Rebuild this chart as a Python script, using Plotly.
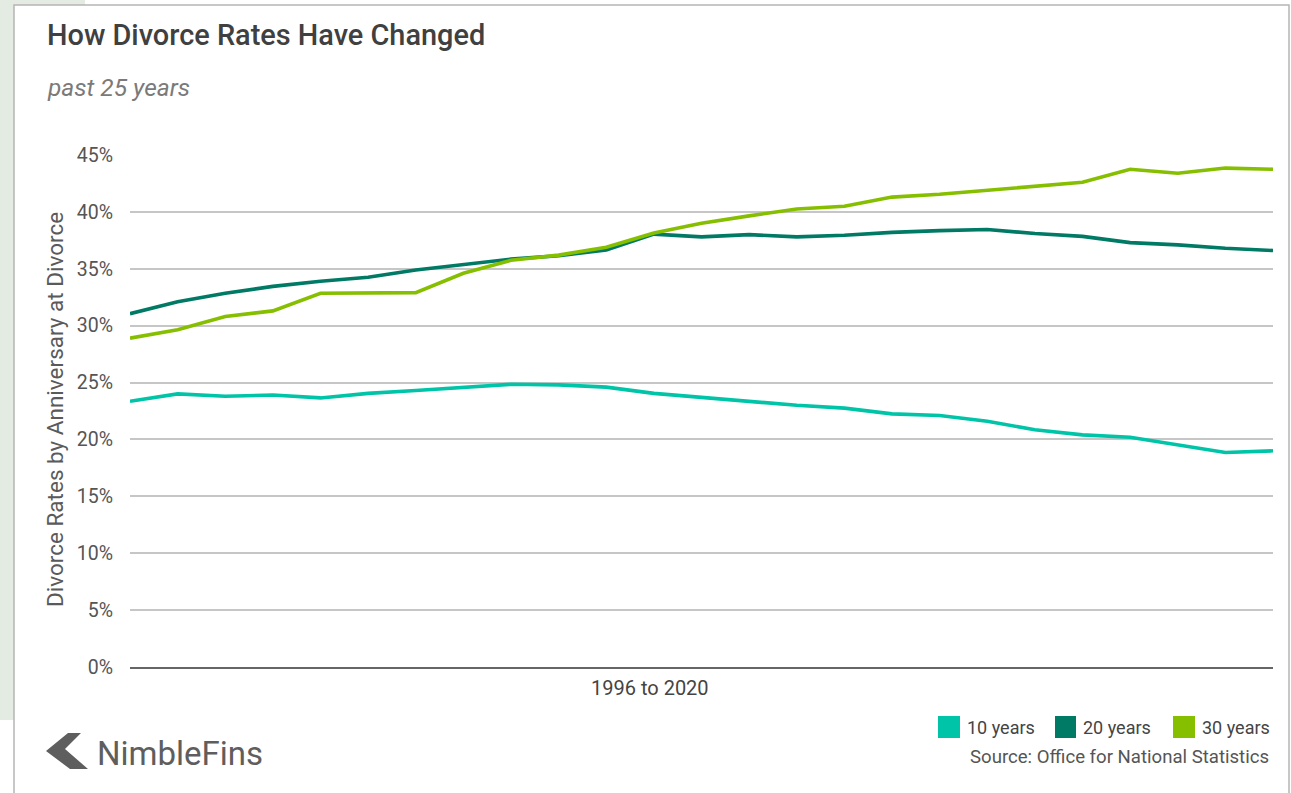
import plotly.graph_objects as go

years = [1996, 1997, 1998, 1999, 2000, 2001, 2002, 2003, 2004, 2005, 2006, 2007, 2008,
         2009, 2010, 2011, 2012, 2013, 2014, 2015, 2016, 2017, 2018, 2019, 2020]
ten_years = [23.35, 24.0, 23.8, 23.9, 23.65, 24.05, 24.3, 24.6, 24.85, 24.8, 24.6, 24.05, 23.7,
             23.3, 23.0, 22.75, 22.25, 22.1, 21.6, 20.85, 20.4, 20.2, 19.5, 18.85, 19.0]
twenty_years = [31.05, 32.1, 32.85, 33.45, 33.9, 34.25, 34.9, 35.35, 35.85, 36.15, 36.65, 38.05, 37.8,
                38.0, 37.8, 37.95, 38.2, 38.35, 38.45, 38.1, 37.85, 37.3, 37.1, 36.8, 36.6]
thirty_years = [28.9, 29.65, 30.8, 31.3, 32.85, 32.9, 32.9, 34.6, 35.75, 36.2, 36.9, 38.15, 39.0,
                39.65, 40.25, 40.5, 41.3, 41.55, 41.9, 42.25, 42.6, 43.75, 43.4, 43.85, 43.75]

series_names = ["10 years", "20 years", "30 years"]
series_colors = ["#00C4A8", "#007A65", "#86BF00"]
y_ticks = [0, 5, 10, 15, 20, 25, 30, 35, 40, 45]
y_tick_labels = ["0%", "5%", "10%", "15%", "20%", "25%", "30%", "35%", "40%", "45%"]

W, H = 1291, 793
L, R, T, B = 130, 18, 155, 126
PW, PH = W - L - R, H - T - B

def px(x):
    return (x - L) / PW

def py(y):
    return (H - B - y) / PH

FONT = "Roboto, Arial, sans-serif"

fig = go.Figure()
for name, vals, col in zip(series_names, [ten_years, twenty_years, thirty_years], series_colors):
    fig.add_trace(go.Scatter(x=years, y=vals, mode="lines", name=name,
                             line=dict(color=col, width=3.6), showlegend=False,
                             hoverinfo="skip"))

shapes = []
# page background panel and chart card
shapes.append(dict(type="rect", xref="paper", yref="paper", x0=px(0), x1=px(85), y0=py(720), y1=py(0),
                   fillcolor="#E4EBE2", line=dict(width=0), layer="below"))
shapes.append(dict(type="rect", xref="paper", yref="paper", x0=px(14), x1=px(1289), y0=py(800), y1=py(5),
                   fillcolor="white", line=dict(color="#B5B5B5", width=1.5), layer="below"))
# legend swatches
sw = [(938, 960), (1055, 1076), (1173, 1195)]
for (a, b), col in zip(sw, series_colors):
    shapes.append(dict(type="rect", xref="paper", yref="paper", x0=px(a), x1=px(b), y0=py(738), y1=py(716),
                       fillcolor=col, line=dict(width=0)))
# logo chevron
pts = [(46, 751), (68, 733), (81, 733), (65, 749), (88, 769), (70, 769)]
path = "M " + " L ".join(f"{px(x):.5f},{py(y):.5f}" for x, y in pts) + " Z"
shapes.append(dict(type="path", xref="paper", yref="paper", path=path,
                   fillcolor="#5E5E5E", line=dict(width=0)))

ann = []
ann.append(dict(text="How Divorce Rates Have Changed", x=px(45), y=py(35), xanchor="left", yanchor="middle",
                font=dict(family=FONT, size=28.9, color="#404040", weight=500)))
ann.append(dict(text="<i>past 25 years</i>", x=px(45), y=py(87), xanchor="left", yanchor="middle",
                font=dict(family=FONT, size=24.5, color="#7A7A7A")))
ann.append(dict(text="Divorce Rates by Anniversary at Divorce", x=px(55), y=py(410), xanchor="center",
                yanchor="middle", textangle=-90, font=dict(family=FONT, size=22.5, color="#5A5A5A")))
ann.append(dict(text="1996 to 2020", x=px(650), y=py(688), xanchor="center", yanchor="middle",
                font=dict(family=FONT, size=20, color="#444444")))
for (a, b), name in zip(sw, series_names):
    ann.append(dict(text=name, x=px(b + 5), y=py(727), xanchor="left", yanchor="middle",
                    font=dict(family=FONT, size=18, color="#444444")))
ann.append(dict(text="Source: Office for National Statistics", x=px(1271), y=py(757), xanchor="right",
                yanchor="middle", font=dict(family=FONT, size=18.6, color="#555555")))
ann.append(dict(text="NimbleFins", x=px(95), y=py(753), xanchor="left", yanchor="middle",
                font=dict(family=FONT, size=33, color="#5E5E5E")))
for a in ann:
    a.update(xref="paper", yref="paper", showarrow=False)

fig.update_layout(
    width=W, height=H,
    margin=dict(l=L, r=R, t=T, b=B, pad=0),
    paper_bgcolor="white", plot_bgcolor="rgba(0,0,0,0)",
    shapes=shapes, annotations=ann,
    showlegend=False,
    xaxis=dict(range=[years[0], years[-1]], showticklabels=False, showgrid=False, zeroline=False,
               showline=True, linecolor="#666666", linewidth=2, ticks=""),
    yaxis=dict(range=[0, 45], tickmode="array", tickvals=y_ticks, ticktext=y_tick_labels,
               showgrid=True, gridcolor="#C6C6C6",
               gridwidth=2, zeroline=False, showline=False, ticks="", ticklabelstandoff=16,
               tickfont=dict(family=FONT, size=19.5, color="#555555")),
)

fig.write_html("out.html")
